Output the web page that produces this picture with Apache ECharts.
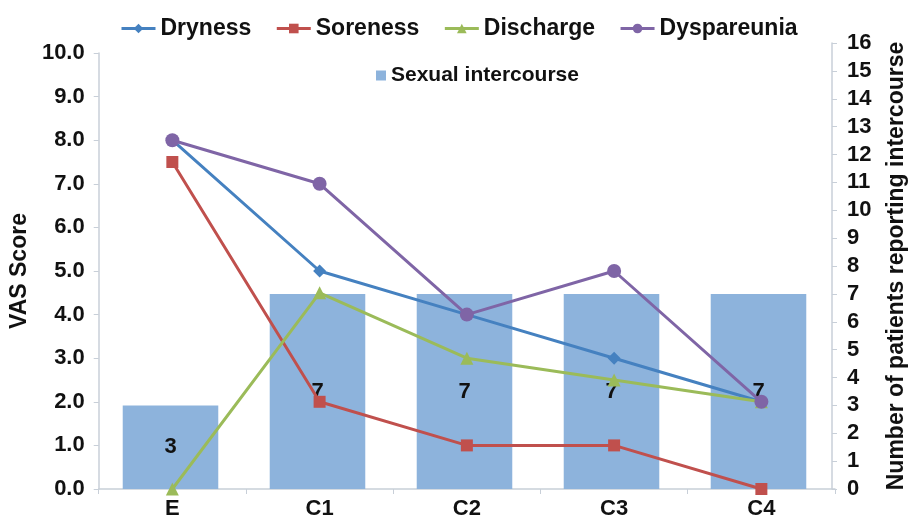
<!DOCTYPE html>
<html>
<head>
<meta charset="utf-8">
<script src="https://cdn.jsdelivr.net/npm/echarts@6/dist/echarts.min.js"></script>
<style>
  html, body { margin: 0; padding: 0; background: #fff; }
  #chart { width: 916px; height: 522px; }
</style>
</head>
<body>
<div id="chart"></div>
<script>
// VAS scores per visit, with count of patients reporting intercourse
const categories = ['E', 'C1', 'C2', 'C3', 'C4'];
const dryness = [8.0, 5.0, 4.0, 3.0, 2.0];
const soreness = [7.5, 2.0, 1.0, 1.0, 0.0];
const discharge = [0.0, 4.5, 3.0, 2.5, 2.0];
const dyspareunia = [8.0, 7.0, 4.0, 5.0, 2.0];
const intercourse = [3, 7, 7, 7, 7];

const font = '"Liberation Sans", Arial, sans-serif';
const axisGrey = '#c8cfd8';
const ink = '#111';

const colors = {
    bar: '#8db3dc',
    dryness: '#4581c0',
    soreness: '#c0504d',
    discharge: '#9bbb59',
    dyspareunia: '#7f65a6'
};

function lineSeries(name, data, color, symbol, size) {
    return {
        name: name,
        type: 'line',
        xAxisIndex: 0,
        yAxisIndex: 0,
        data: data,
        symbol: symbol,
        symbolSize: size,
        lineStyle: { color: color, width: 3 },
        itemStyle: { color: color },
        z: 3
    };
}

const boldText = (size) => ({ color: ink, fontSize: size, fontWeight: 'bold', fontFamily: font });

const chart = echarts.init(document.getElementById('chart'));

chart.setOption({
    animation: false,
    backgroundColor: '#fff',
    textStyle: { fontFamily: font },
    legend: [
        {
            data: ['Dryness', 'Soreness', 'Discharge', 'Dyspareunia'],
            left: 115,
            top: 12,
            itemWidth: 34,
            itemHeight: 12,
            itemGap: 24,
            lineStyle: { width: 3 },
            textStyle: boldText(23)
        },
        {
            data: ['Sexual intercourse'],
            left: 371,
            top: 60,
            itemWidth: 10,
            itemHeight: 10,
            icon: 'rect',
            textStyle: boldText(21)
        }
    ],
    grid: [
        { left: 97, right: 81, top: 53, bottom: 33 },
        { left: 97, right: 81, top: 43, bottom: 33 }
    ],
    xAxis: [
        {
            type: 'category',
            gridIndex: 0,
            data: categories,
            axisLine: { lineStyle: { color: axisGrey, width: 1.5 } },
            axisTick: { show: true, length: 5, lineStyle: { color: axisGrey } },
            axisLabel: Object.assign(boldText(22), { margin: 9 })
        },
        {
            type: 'category',
            gridIndex: 1,
            data: categories,
            show: false
        }
    ],
    yAxis: [
        {
            type: 'value',
            gridIndex: 0,
            min: 0,
            max: 10,
            interval: 1,
            name: 'VAS Score',
            nameLocation: 'middle',
            nameRotate: 90,
            nameGap: 64,
            nameTextStyle: boldText(23),
            axisLine: { show: true, lineStyle: { color: axisGrey, width: 1.5 } },
            axisTick: { show: true, length: 5, lineStyle: { color: axisGrey } },
            axisLabel: Object.assign(boldText(22), {
                margin: 14,
                formatter: v => v.toFixed(1)
            }),
            splitLine: { show: false }
        },
        {
            type: 'value',
            gridIndex: 1,
            position: 'right',
            min: 0,
            max: 16,
            interval: 1,
            name: 'Number of patients reporting intercourse',
            nameLocation: 'middle',
            nameRotate: 90,
            nameGap: 53,
            nameTextStyle: boldText(23),
            axisLine: { show: true, lineStyle: { color: axisGrey, width: 1.5 } },
            axisTick: { show: true, length: 5, lineStyle: { color: axisGrey } },
            axisLabel: Object.assign(boldText(22), { margin: 15 }),
            splitLine: { show: false }
        }
    ],
    series: [
        {
            name: 'Sexual intercourse',
            type: 'bar',
            xAxisIndex: 1,
            yAxisIndex: 1,
            data: intercourse,
            barWidth: '65%',
            itemStyle: { color: colors.bar },
            label: Object.assign(boldText(22), { show: true, position: 'inside' }),
            z: 2
        },
        lineSeries('Dryness', dryness, colors.dryness, 'diamond', 13),
        lineSeries('Soreness', soreness, colors.soreness, 'rect', 12),
        lineSeries('Discharge', discharge, colors.discharge, 'triangle', 13),
        lineSeries('Dyspareunia', dyspareunia, colors.dyspareunia, 'circle', 14)
    ]
});
</script>
</body>
</html>
